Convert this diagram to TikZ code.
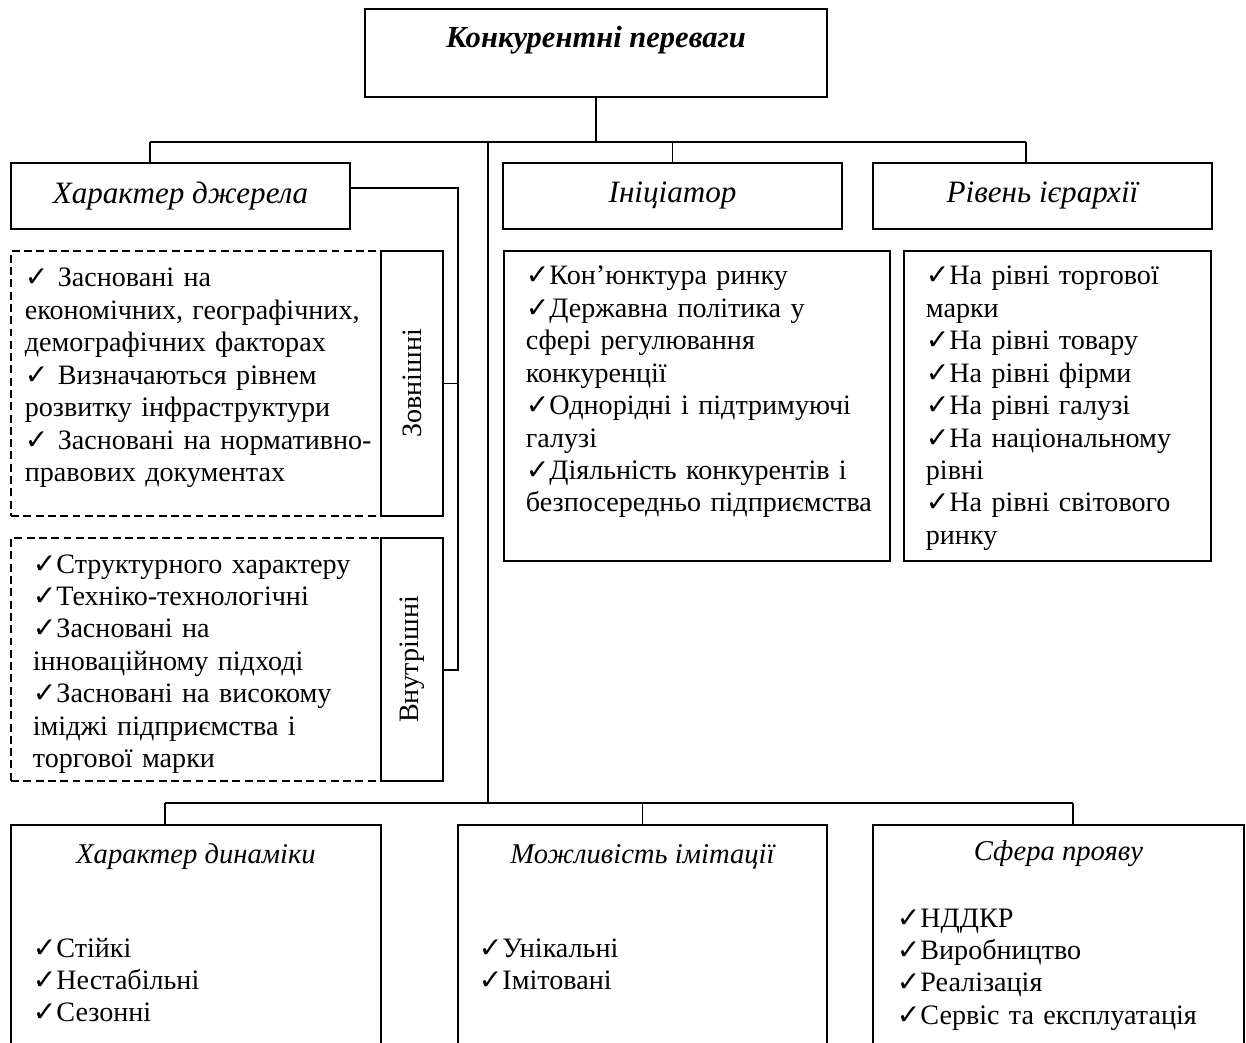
\documentclass[tikz,border=0pt]{standalone}
\usepackage{fontspec}
\setmainfont{Liberation Serif}
\newfontfamily\symfont{DejaVu Sans}
\usetikzlibrary{positioning}
\newcommand{\ck}{{\symfont\bfseries ✓}}
\newcommand{\diagfont}{\fontsize{16pt}{18.45pt}\selectfont}

\begin{document}
\begin{tikzpicture}[x=0.02cm, y=-0.02cm, line width=1pt,
    box/.style={draw, inner sep=0pt, font=\diagfont},
    head/.style={box, minimum width=6.78cm, minimum height=1.32cm, font=\fontsize{17.7pt}{20pt}\selectfont\itshape},
    dashbox/.style={draw, dash pattern=on 4.5pt off 2.5pt, inner sep=0pt},
    side/.style={box, minimum width=1.24cm},
    items/.style={anchor=base west, align=left, text width=8cm, inner sep=0pt, font=\diagfont},
    lower/.style={box, anchor=north, font=\fontsize{16.3pt}{19pt}\selectfont\itshape, text height=0.78cm, text depth=3.94cm}]
    \useasboundingbox (0,0) rectangle (1246,1043);
    \clip (0,0) rectangle (1246,1043);

    % Top box
    \node[box, font=\fontsize{17.4pt}{20pt}\selectfont\bfseries\itshape, minimum width=9.24cm,
          text height=0.78cm, text depth=0.98cm] (root) at (596,53) {Конкурентні переваги};

    % First row
    \node[head] (src) at (180.5,196) {Характер джерела};
    \node[head] (ini) at (672.5,196) {Ініціатор};
    \node[head] (lvl) at (1042.5,196) {Рівень ієрархії};

    % Sources: external and internal
    \node[dashbox, minimum width=7.4cm, minimum height=5.3cm] (extbox) at (196,383.5) {};
    \node[side, minimum height=5.3cm] (ext) at (412,383.5) {\rotatebox{90}{Зовнішні}};
    \node[items] (extT) at (24,287) {\ck\ Засновані на\\економічних, географічних,\\демографічних факторах\\
        \ck\ Визначаються рівнем\\розвитку інфраструктури\\\ck\ Засновані на нормативно-\\правових документах};

    \node[dashbox, minimum width=7.4cm, minimum height=4.86cm] (innbox) at (196,659.5) {};
    \node[side, minimum height=4.86cm] (inn) at (412,659.5) {\rotatebox{90}{Внутрішні}};
    \node[items] (innT) at (32,573) {\ck Структурного характеру\\\ck Техніко-технологічні\\\ck Засновані на\\
        інноваційному підході\\\ck Засновані на високому\\іміджі підприємства і\\торгової марки};

    % Initiator and hierarchy lists
    \node[box, minimum width=7.72cm, minimum height=6.2cm] (inibox) at (697,406) {};
    \node[items] (iniT) at (525,285) {\ck Кон’юнктура ринку\\\ck Державна політика у\\сфері регулювання\\конкуренції\\
        \ck Однорідні і підтримуючі\\галузі\\\ck Діяльність конкурентів і\\безпосередньо підприємства};

    \node[box, minimum width=6.14cm, minimum height=6.2cm] (lvlbox) at (1057.5,406) {};
    \node[items] (lvlT) at (925,285) {\ck На рівні торгової\\марки\\\ck На рівні товару\\\ck На рівні фірми\\
        \ck На рівні галузі\\\ck На національному\\рівні\\\ck На рівні світового\\ринку};

    % Bottom row
    \node[lower, minimum width=7.4cm] (dyn) at (196,824) {Характер динаміки};
    \node[items] (dynT) at (32,957) {\ck Стійкі\\\ck Нестабільні\\\ck Сезонні};

    \node[lower, minimum width=7.38cm] (imit) at (642.5,824) {Можливість імітації};
    \node[items] (imitT) at (478,957) {\ck Унікальні\\\ck Імітовані};

    \node[lower, minimum width=7.42cm, text height=0.72cm] (sph) at (1058.5,824) {Сфера прояву};
    \node[items] (sphT) at (896,927) {\ck НДДКР\\\ck Виробництво\\\ck Реалізація\\\ck Сервіс та експлуатація};

    % Connectors
    \coordinate (busL) at (150,142);
    \coordinate (busR) at (1026,142);
    \coordinate (trunk) at (488,142);
    \coordinate (trunkEnd) at (488,803);
    \coordinate (lowL) at (165,803);
    \coordinate (lowR) at (1073,803);
    \draw (root.south) -- (root.south |- busL);
    \draw (busL) -- (busR);
    \draw (busL) -- (busL |- src.north);
    \draw (ini.north |- busL) -- (ini.north);
    \draw (busR) -- (busR |- lvl.north);
    \draw (trunk) -- (trunkEnd);
    \draw (lowL) -- (lowR);
    \draw (lowL) -- (lowL |- dyn.north);
    \draw (imit.north |- lowL) -- (imit.north);
    \draw (lowR) -- (lowR |- sph.north);

    % Source branches
    \coordinate (srcR) at (458,188);
    \coordinate (innR) at (458,670);
    \draw (srcR -| src.east) -- (srcR) -- (innR) -- (innR -| inn.east);
    \draw (ext.east) -- (ext.east -| srcR);
\end{tikzpicture}
\end{document}
